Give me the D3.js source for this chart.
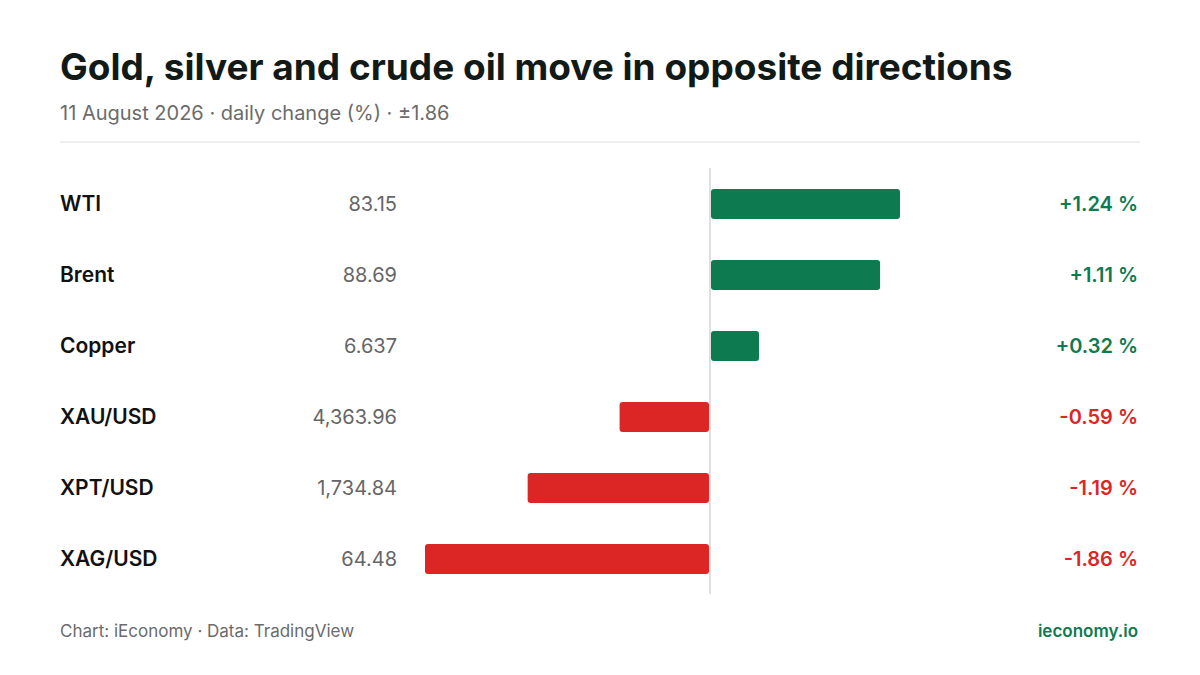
<!DOCTYPE html>
<html><head><meta charset="utf-8">
<script src="https://cdn.jsdelivr.net/npm/d3@7"></script>
<style>body{margin:0;background:#fff}</style></head>
<body><svg id="c" width="1200" height="675"></svg>
<script>
const categories=["WTI","Brent","Copper","XAU/USD","XPT/USD","XAG/USD"];
const prices=["83.15","88.69","6.637","4,363.96","1,734.84","64.48"];
const changes=[1.24,1.11,0.32,-0.59,-1.19,-1.86];
const svg=d3.select("#c");
const F="Inter, 'Noto Sans', sans-serif";
const green="#0e7a4f", red="#dc2626";
svg.append("text").attr("x",60).attr("y",80).attr("font-family",F).attr("font-size",37).attr("font-weight",700).attr("fill","#111a17").text("Gold, silver and crude oil move in opposite directions");
svg.append("text").attr("x",60).attr("y",120).attr("font-family",F).attr("font-size",20).attr("fill","#6b6b6b").text("11 August 2026 · daily change (%) · ±1.86");
svg.append("line").attr("x1",60).attr("x2",1140).attr("y1",142).attr("y2",142).attr("stroke","#ddd");
const x=d3.scaleLinear().domain([-1.86,1.86]).range([425,995]);
const y=d3.scaleBand().domain(categories).range([168.5,594.5]).paddingInner(0.58).paddingOuter(0.29);
svg.append("line").attr("x1",x(0)).attr("x2",x(0)).attr("y1",168).attr("y2",594).attr("stroke","#d4d4d4").attr("stroke-width",1.5);
categories.forEach((c,i)=>{
  const v=changes[i], yc=y(c)+y.bandwidth()/2, col=v>=0?green:red;
  svg.append("rect").attr("x",Math.min(x(0),x(v))+(v>=0?1:0)).attr("width",Math.abs(x(v)-x(0))-1).attr("y",y(c)).attr("height",y.bandwidth()).attr("rx",3).attr("fill",col);
  svg.append("text").attr("x",60).attr("y",yc+7).attr("font-family",F).attr("font-size",21).attr("font-weight",600).attr("fill","#111").text(c);
  svg.append("text").attr("x",397).attr("y",yc+7).attr("text-anchor","end").attr("font-family",F).attr("font-size",20).attr("fill","#666").text(prices[i]);
  svg.append("text").attr("x",1138).attr("y",yc+7).attr("text-anchor","end").attr("font-family",F).attr("font-size",20).attr("font-weight",600).attr("fill",col).text((v>0?"+":"")+v.toFixed(2)+" %");
});
svg.append("text").attr("x",60).attr("y",637).attr("font-family",F).attr("font-size",17).attr("fill","#6b6b6b").text("Chart: iEconomy · Data: TradingView");
svg.append("text").attr("x",1138).attr("y",637).attr("text-anchor","end").attr("font-family",F).attr("font-size",17).attr("font-weight",600).attr("fill",green).text("ieconomy.io");
</script></body></html>
